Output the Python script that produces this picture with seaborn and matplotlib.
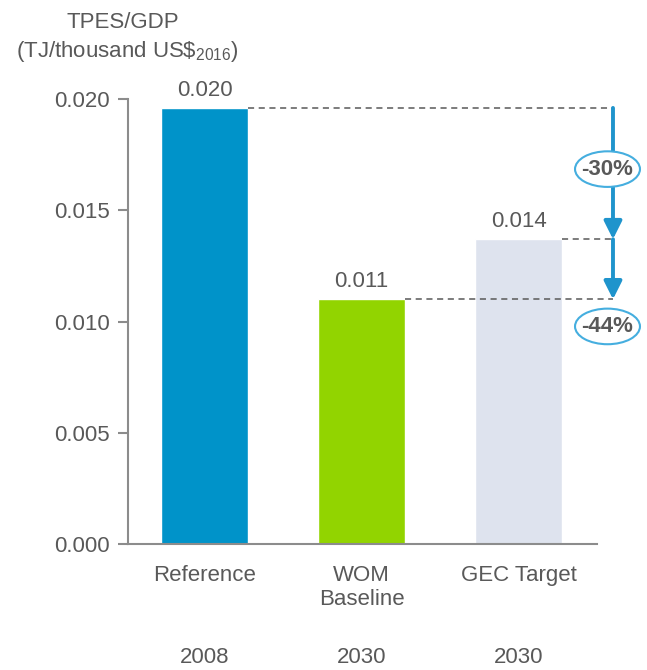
import matplotlib
matplotlib.use("Agg")
import matplotlib.pyplot as plt
from matplotlib.patches import Ellipse
from matplotlib.transforms import blended_transform_factory
import seaborn as sns
import pandas as pd

# Energy intensity (TPES/GDP) by scenario
categories = ["Reference", "WOM\nBaseline", "GEC Target"]
years = ["2008", "2030", "2030"]
values = [0.0196, 0.0110, 0.0137]
bar_colors = ["#0093C9", "#92D400", "#DEE3EE"]
y_ticks = [0.000, 0.005, 0.010, 0.015, 0.020]

sns.set_theme(style="ticks")
plt.rcParams["font.family"] = ["Liberation Sans", "DejaVu Sans"]
plt.rcParams["mathtext.default"] = "regular"

GREY = "#595959"
AXIS = "#8C8C8C"
ARROW = "#1F94CC"
RING = "#45AEDF"

df = pd.DataFrame({"category": categories, "value": values})

fig = plt.figure(figsize=(6.47, 6.70), dpi=100)
ax = fig.add_axes([0.1978, 0.188, 0.7249, 0.6642])

sns.barplot(data=df, x="category", y="value", hue="category",
            palette=bar_colors, width=0.554, legend=False, ax=ax,
            saturation=1)

ax.set_xlim(-0.49, 2.5)
ax.set_ylim(0, 0.020)
ax.set_yticks(y_ticks)
ax.set_yticklabels([f"{t:.3f}" for t in y_ticks])
ax.set_xlabel("")
ax.set_ylabel("")

for side in ("top", "right"):
    ax.spines[side].set_visible(False)
for side in ("left", "bottom"):
    ax.spines[side].set_color(AXIS)
    ax.spines[side].set_linewidth(1.5)

ax.tick_params(axis="y", length=7, width=1.5, color=AXIS, pad=6,
               labelsize=16, labelcolor=GREY)
ax.tick_params(axis="x", length=0, pad=15, labelsize=16, labelcolor=GREY)

# value labels above the bars
for cont in ax.containers:
    ax.bar_label(cont, labels=[f"{v:.3f}" for v in cont.datavalues],
                 padding=5, fontsize=16, color=GREY)

# year row under the category names
trans = blended_transform_factory(ax.transData, ax.transAxes)
for i, yr in enumerate(years):
    ax.text(i, -0.254, yr, transform=trans, ha="center", va="center",
            fontsize=16, color=GREY)

# axis title
fig.text(0.190, 0.966, "TPES/GDP", ha="center", va="center",
         fontsize=16, color=GREY)
fig.text(0.197, 0.923, "(TJ/thousand US\\$$_{2016}$)", ha="center",
         va="center", fontsize=16, color=GREY)

# guide lines and reduction arrows
half = 0.554 / 2
x_arrow = 2.602
ref, wom, gec = values
for i, v in enumerate(values):
    ax.plot([i + half, x_arrow], [v, v], ls=(0, (4, 3)), lw=1.1,
            color=GREY, clip_on=False, zorder=3)

for y0, y1 in [(ref, gec), (gec, wom)]:
    ax.annotate("", xy=(x_arrow, y1), xytext=(x_arrow, y0),
                arrowprops=dict(arrowstyle="-|>,head_length=0.9,head_width=0.45",
                                color=ARROW, lw=2.8, shrinkA=0, shrinkB=0),
                annotation_clip=False, zorder=4)

# percentage change badges
changes = [(gec - ref) / ref, (wom - ref) / ref]
badge_y = [(ref + gec) / 2 + 0.0002, wom - 0.00122]
for ch, by in zip(changes, badge_y):
    e = Ellipse((2.567, by), width=0.414, height=0.00160, facecolor="white",
                edgecolor=RING, lw=1.5, clip_on=False, zorder=5)
    ax.add_patch(e)
    ax.text(2.567, by, f"{ch * 100:.0f}%", ha="center", va="center",
            fontsize=16, fontweight="bold", color=GREY, zorder=6,
            clip_on=False)

fig.savefig("out.png", dpi=100)
